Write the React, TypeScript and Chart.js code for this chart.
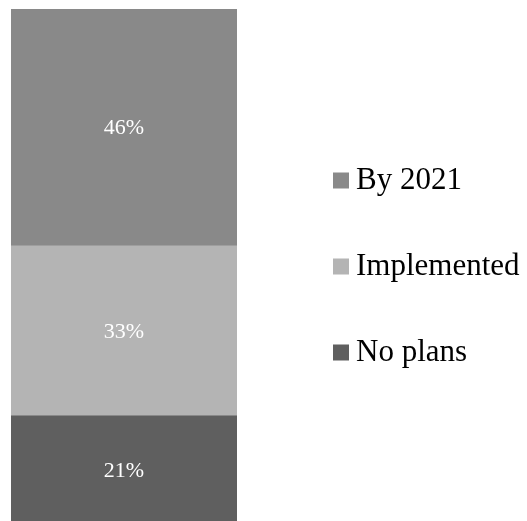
import React, { useEffect, useRef } from "react";
import { Chart, registerables } from "chart.js";

Chart.register(...registerables);

const categories = [""];
const seriesNames = ["No plans", "Implemented", "By 2021"];
const noPlans = [21];
const implemented = [33];
const by2021 = [46];
const colors = ["#5f5f5f", "#b4b4b4", "#898989"];
const legendOrder = [2, 1, 0];

const FONT = '"Liberation Serif", "Times New Roman", serif';

const labelPlugin = {
  id: "segLabels",
  afterDatasetsDraw(chart: any) {
    const ctx = chart.ctx;
    ctx.save();
    ctx.fillStyle = "#ffffff";
    ctx.font = `22px ${FONT}`;
    ctx.textAlign = "center";
    ctx.textBaseline = "middle";
    chart.data.datasets.forEach((ds: any, i: number) => {
      const meta = chart.getDatasetMeta(i);
      meta.data.forEach((bar: any, j: number) => {
        const p = bar.getProps(["x", "y", "base"], true);
        const cy = (p.y + p.base) / 2;
        ctx.fillText(`${ds.data[j]}%`, p.x, cy + 1);
      });
    });
    ctx.restore();
  },
};

const legendPlugin = {
  id: "sideLegend",
  afterDraw(chart: any) {
    const ctx = chart.ctx;
    ctx.save();
    ctx.font = `31px ${FONT}`;
    ctx.textAlign = "left";
    ctx.textBaseline = "middle";
    const boxX = chart.chartArea.right + 96;
    const startY = 180.5;
    const step = 86;
    legendOrder.forEach((di, k) => {
      const ds = chart.data.datasets[di];
      const cy = startY + k * step;
      ctx.fillStyle = ds.backgroundColor;
      ctx.fillRect(boxX, cy - 8, 16, 16);
      ctx.fillStyle = "#000000";
      ctx.fillText(ds.label, boxX + 23, cy);
    });
    ctx.restore();
  },
};

export default function App() {
  const ref = useRef<HTMLCanvasElement | null>(null);
  useEffect(() => {
    if (!ref.current) return;
    const series = [noPlans, implemented, by2021];
    const chart = new Chart(ref.current, {
      type: "bar",
      data: {
        labels: categories,
        datasets: series.map((d, i) => ({
          label: seriesNames[i],
          data: d,
          backgroundColor: colors[i],
          borderWidth: 0,
          barPercentage: 1,
          categoryPercentage: 1,
        })),
      },
      options: {
        animation: false,
        responsive: false,
        maintainAspectRatio: false,
        layout: { padding: { left: 11, top: 9, right: 290, bottom: 0 } },
        scales: {
          x: { stacked: true, display: false },
          y: { stacked: true, display: false, min: 0, max: 100 },
        },
        plugins: {
          legend: { display: false },
          tooltip: { enabled: false },
        },
      },
      plugins: [labelPlugin, legendPlugin],
    });
    return () => chart.destroy();
  }, []);
  return (
    <div style={{ position: "fixed", left: 0, top: 0, width: 527, height: 524, background: "#fff" }}>
      <canvas ref={ref} width={527} height={524} style={{ display: "block" }} />
    </div>
  );
}
